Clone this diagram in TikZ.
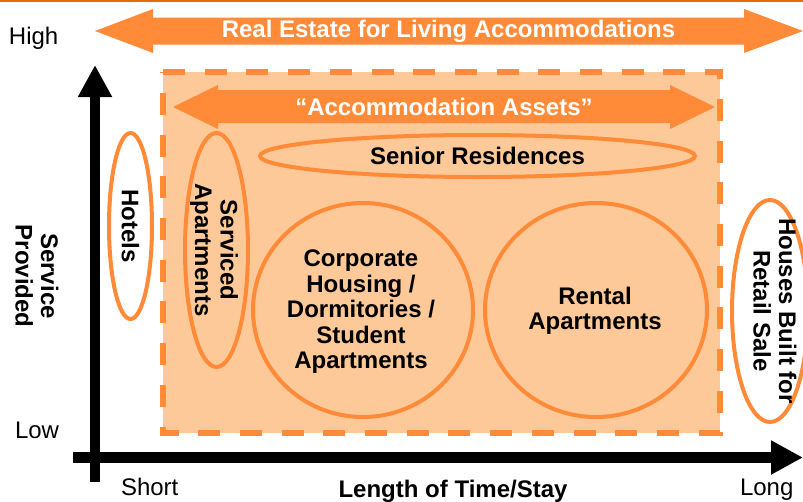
\documentclass[tikz,border=0pt]{standalone}
\usepackage{fontspec}
\setmainfont{Liberation Sans}
\usetikzlibrary{arrows.meta,shapes.geometric}
\definecolor{accent}{RGB}{255,138,56}
\definecolor{accentlight}{RGB}{253,201,152}
\definecolor{rulecolor}{RGB}{228,108,10}
\begin{document}
\begin{tikzpicture}[x=1pt,y=-1pt,
  every node/.style={font=\fontsize{24}{25.5}\selectfont, inner sep=0pt, outer sep=0pt},
  lbl/.style={font=\fontsize{24}{25.5}\selectfont\bfseries, align=center},
  bannertext/.style={lbl, text=white, anchor=base},
  banner/.style={fill=accent},
  bubble/.style={draw=accent, line width=4pt, ellipse, inner sep=0pt},
  axis/.style={line width=#1, -{Triangle[length=32pt,width=32pt]}},
  zone/.style={draw=accent, line width=6pt, dash pattern=on 22pt off 19.7pt},
]
\clip (0,0) rectangle (803,501);
\fill[white] (0,0) rectangle (803,501);
% thin rule along the top edge
\fill[rulecolor] (0,0) rectangle (803,2);

% broad double arrow
\fill[banner] (95,31) -- (153,9) -- (153,17.5) -- (744,17.5) -- (744,9) -- (803,31)
  -- (744,53) -- (744,44.5) -- (153,44.5) -- (153,53) -- cycle;
\node[bannertext] (realestate) at (448.5,37.5) {Real Estate for Living Accommodations};

% accommodation assets zone
\fill[accentlight] (163,72) rectangle (720,433);
\draw[zone] (163,72) -- (720,72) -- (720,433) -- (163,433) -- cycle;

\fill[banner] (173,107) -- (218,85) -- (218,90) -- (670,90) -- (670,85) -- (715,107)
  -- (670,129) -- (670,123) -- (218,123) -- (218,129) -- cycle;
\node[bannertext] (assets) at (444,115) {“Accommodation Assets”};

% categories
\node[bubble, minimum width=43pt, minimum height=186pt] (hotels) at (130.5,226) {};
\node[lbl, rotate=-90] (hotelstext) at (hotels.center) {Hotels};

\node[bubble, minimum width=63pt, minimum height=234pt] (serviced) at (216.5,250) {};
\node[lbl, rotate=-90] (servicedtext) at (214,250) {Serviced\\Apartments};

\node[bubble, minimum width=435pt, minimum height=42pt] (senior) at (477.5,156) {};
\node[lbl] (seniortext) at (senior.center) {Senior Residences};

\node[bubble, minimum width=220pt, minimum height=214pt] (corporate) at (363,310) {};
\node[lbl] (corporatetext) at (361,312) {Corporate\\Housing /\\Dormitories /\\Student\\Apartments};

\node[bubble, minimum width=222pt, minimum height=214pt] (rental) at (596,310) {};
\node[lbl] (rentaltext) at (595,311) {Rental\\Apartments};

\node[bubble, minimum width=76pt, minimum height=222pt] (houses) at (770,311) {};
\node[lbl, rotate=-90] (housestext) at (775,311) {Houses Built for\\Retail Sale};

% axes
\coordinate (yfoot) at (95,482);
\coordinate (ytip) at (95,65);
\coordinate (xfoot) at (73,457.5);
\coordinate (xtip) at (803,457.5);
\draw[axis=10pt] (yfoot) -- (ytip);
\draw[axis=11pt] (xfoot) -- (xtip);

% axis labels
\node[anchor=base west] (high) at (9,44) {High};
\node[anchor=base west] (low) at (15,438) {Low};
\node[anchor=base west] (short) at (121,495) {Short};
\node[anchor=base west] (long) at (740,495) {Long};
\node[lbl, anchor=base] (xlabel) at (453,497) {Length of Time/Stay};
\node[lbl, rotate=-90] (ylabel) at (37,276) {Service\\Provided};
\end{tikzpicture}
\end{document}
